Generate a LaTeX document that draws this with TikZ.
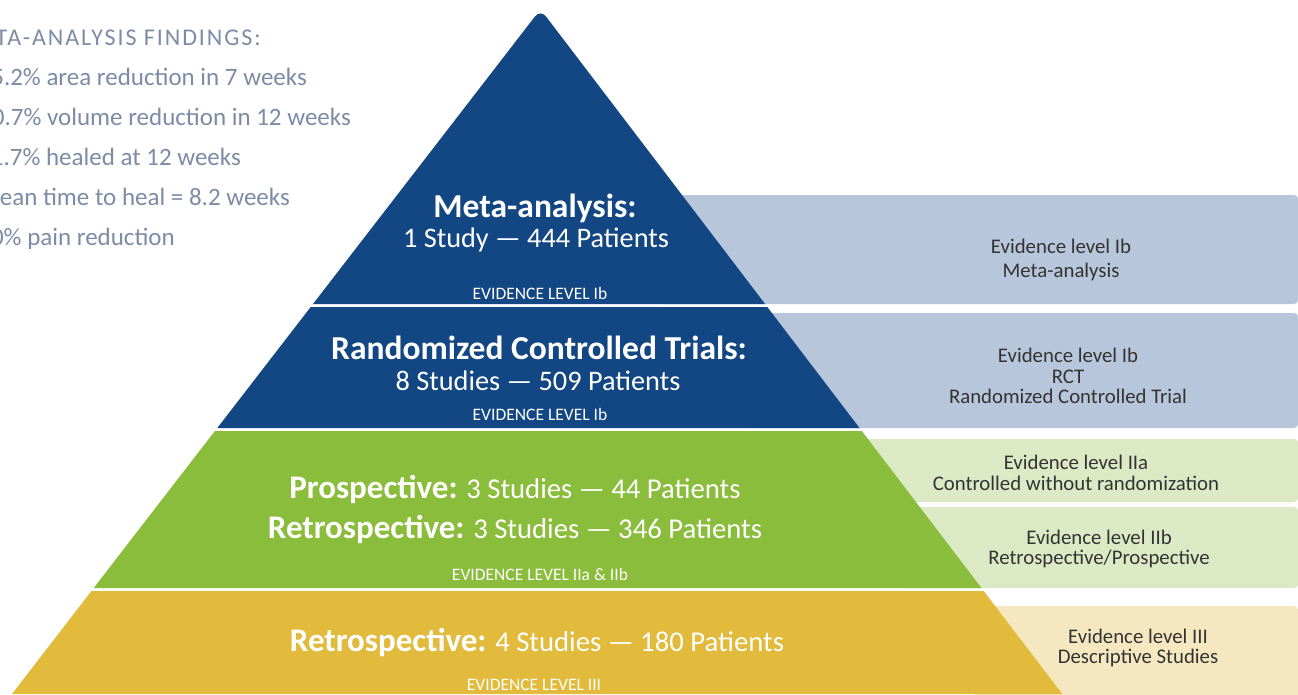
\documentclass[tikz,border=0pt]{standalone}
\usepackage{fontspec}
\setmainfont{Carlito}
\newfontfamily\headfont[LetterSpace=8]{Carlito}
\definecolor{pyrblue}{RGB}{19,71,132}
\definecolor{pyrgreen}{RGB}{138,189,59}
\definecolor{pyryellow}{RGB}{226,186,60}
\definecolor{panblue}{RGB}{183,198,218}
\definecolor{pangreen}{RGB}{220,233,197}
\definecolor{panyellow}{RGB}{245,232,192}
\definecolor{findcol}{RGB}{125,139,166}
\definecolor{pantext}{RGB}{51,51,51}
\newcommand{\boldlead}[1]{\textbf{\fontsize{33}{34}\selectfont #1}}
\tikzset{
  bigtitle/.style={text=white,font=\fontsize{33.5}{36}\selectfont\bfseries,inner sep=0pt},
  subline/.style={text=white,font=\fontsize{28.3}{30}\selectfont,inner sep=0pt},
  mixline/.style={text=white,font=\fontsize{28.7}{30}\selectfont,inner sep=0pt},
  evid/.style={text=white,font=\fontsize{17.5}{18}\selectfont,inner sep=0pt},
  pantxt/.style={text=pantext,font=\fontsize{20.8}{20.5}\selectfont,align=center,inner sep=0pt},
  finding/.style={text=findcol,font=\fontsize{25}{28}\selectfont,anchor=base east,inner sep=0pt},
  panel/.style={rounded corners=4pt}
}
\begin{document}
\begin{tikzpicture}[x=1pt,y=-1pt]
\useasboundingbox (0,0) rectangle (1298,694);
\clip (0,0) rectangle (1298,694);
% side panels
\fill[panel,panblue] (660,195) rectangle (1298,304);
\fill[panel,panblue] (750,313) rectangle (1298,428);
\fill[panel,pangreen] (850,439) rectangle (1298,502);
\fill[panel,pangreen] (900,507) rectangle (1298,588);
\fill[panel,panyellow] (975,606) rectangle (1298,700);
% pyramid layers
\fill[pyrblue] (313.0,304) [rounded corners=9pt] -- (540.5,9.3) [sharp corners] -- (765.1,304) -- cycle;
\fill[pyrblue] (310.7,307) -- (767.3,307) -- (859.5,428) -- (217.3,428) -- cycle;
\fill[pyrgreen] (214.9,431) -- (861.8,431) -- (981.4,588) -- (93.7,588) -- cycle;
\fill[pyryellow] (91.4,591) -- (983.7,591) -- (1062.2,694) -- (12.0,694) -- cycle;
% pyramid texts
\node[bigtitle] (t1) at (535,208) {Meta-analysis:};
\node[subline] (s1) at (536,240) {1 Study — 444 Patients};
\node[evid] (e1) at (540,293) {EVIDENCE LEVEL Ib};
\node[bigtitle] (t2) at (539,348) {Randomized Controlled Trials:};
\node[subline] (s2) at (538,381) {8 Studies — 509 Patients};
\node[evid] (e2) at (540,414) {EVIDENCE LEVEL Ib};
\node[mixline] (t3) at (515,489) {\boldlead{Prospective:} 3 Studies — 44 Patients};
\node[mixline] (t4) at (515,529) {\boldlead{Retrospective:} 3 Studies — 346 Patients};
\node[evid] (e3) at (540,574) {EVIDENCE LEVEL IIa \& IIb};
\node[mixline] (t5) at (537,642) {\boldlead{Retrospective:} 4 Studies — 180 Patients};
\node[evid] (e4) at (534,685) {EVIDENCE LEVEL III};
% panel texts
\node[pantxt,font=\fontsize{20.8}{24}\selectfont] (p1) at (1061,260) {Evidence level Ib\\Meta-analysis};
\node[pantxt] (p2) at (1068,376) {Evidence level Ib\\RCT\\Randomized Controlled Trial};
\node[pantxt] (p3) at (1076,473) {Evidence level IIa\\Controlled without randomization};
\node[pantxt] (p4) at (1099,549) {Evidence level IIb\\Retrospective/Prospective};
\node[pantxt] (p5) at (1138,648) {Evidence level III\\Descriptive Studies};
% findings
\node[finding,font=\fontsize{24}{28}\headfont] (h0) at (261,45) {META-ANALYSIS FINDINGS:};
\node[finding] (f1) at (307,85) {55.2\% area reduction in 7 weeks};
\node[finding] (f2) at (351,125) {50.7\% volume reduction in 12 weeks};
\node[finding] (f3) at (241,165) {11.7\% healed at 12 weeks};
\node[finding] (f4) at (290,205) {Mean time to heal = 8.2 weeks};
\node[finding] (f5) at (175,245) {90\% pain reduction};
\end{tikzpicture}
\end{document}
